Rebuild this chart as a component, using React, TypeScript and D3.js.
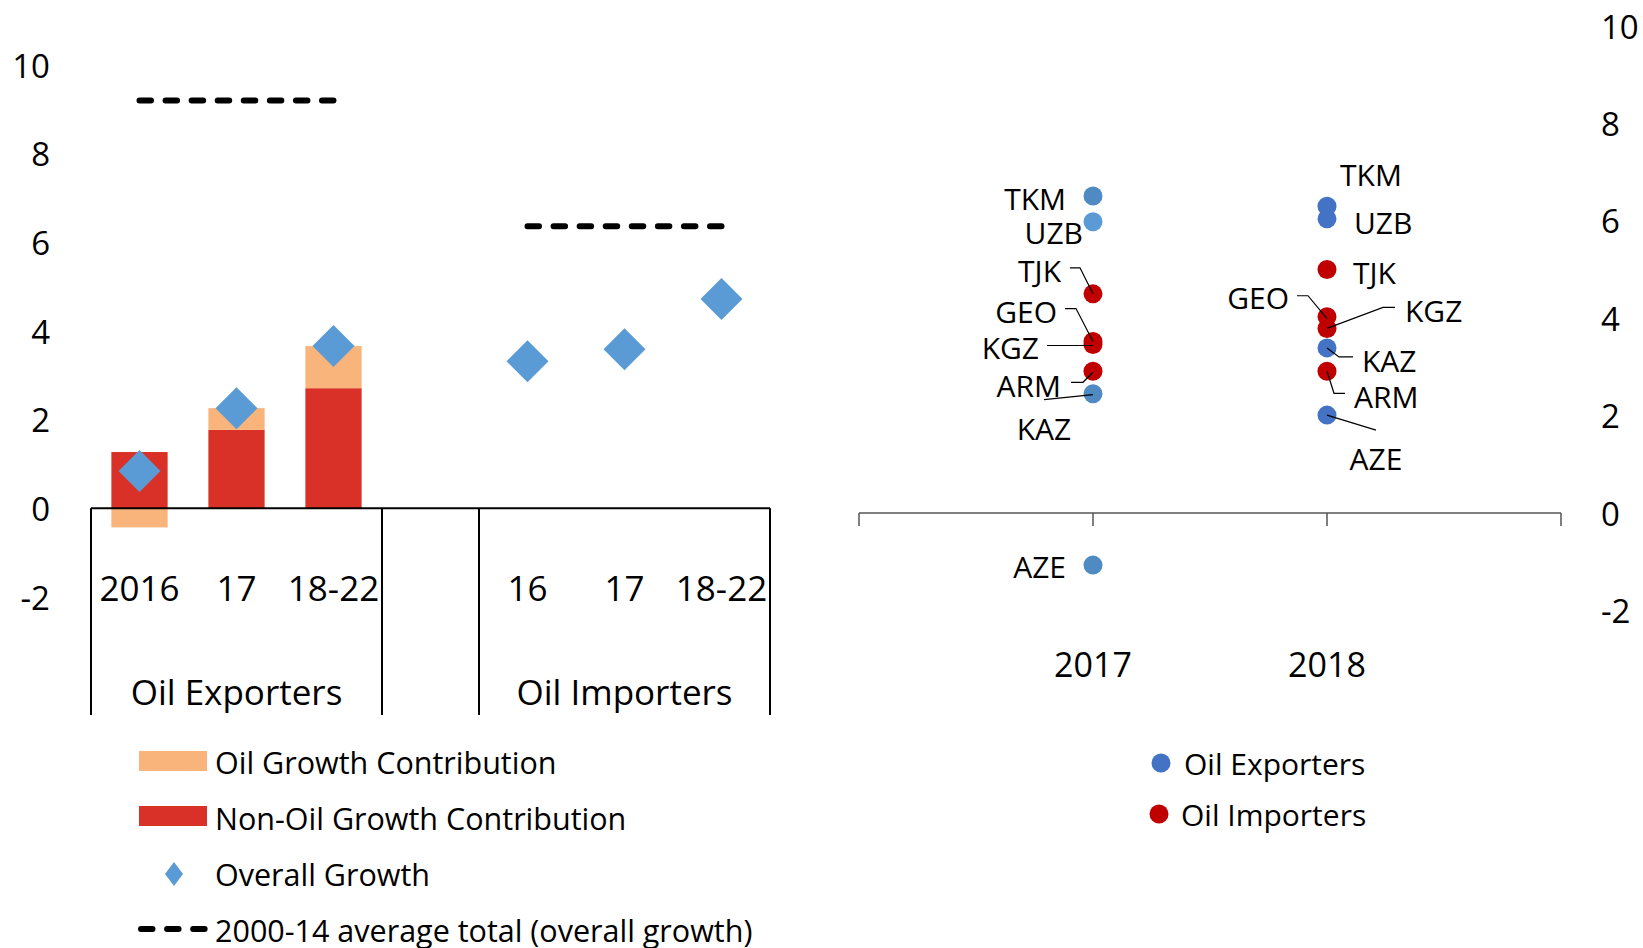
import React from "react";
import * as d3 from "d3";

// ---------- Data ----------
const exporterCats = ["2016", "17", "18-22"];
const importerCats = ["16", "17", "18-22"];
const exporterOil = [-0.43, 0.49, 0.95];
const exporterNonOil = [1.27, 1.77, 2.71];
const exporterOverall = [0.84, 2.26, 3.66];
const importerOverall = [3.32, 3.59, 4.72];
const avgExporters = 9.2;
const avgImporters = 6.36;
const groupNames = ["Oil Exporters", "", "Oil Importers"];
const yTicks = [-2, 0, 2, 4, 6, 8, 10];

const years = ["2017", "2018"];
const countries = ["TKM", "UZB", "TJK", "GEO", "KGZ", "ARM", "KAZ", "AZE"];
const countryGroup = ["Exporter", "Exporter", "Importer", "Importer", "Importer", "Importer", "Exporter", "Exporter"];
const growth2017 = [6.51, 5.98, 4.5, 3.52, 3.46, 2.91, 2.45, -1.07];
const growth2018 = [6.3, 6.04, 5.0, 4.03, 3.79, 2.91, 3.39, 2.01];

const legendLeft = ["Oil Growth Contribution", "Non-Oil Growth Contribution", "Overall Growth", "2000-14 average total (overall growth)"];
const legendRight = ["Oil Exporters", "Oil Importers"];

// ---------- Styles / layout ----------
const FONT = "'Open Sans', 'Noto Sans', sans-serif";
const C_OIL = "#F8B47B";
const C_NONOIL = "#D93127";
const C_DIAMOND = "#5B9BD5";
const C_EXP = "#4472C4";
const C_IMP = "#C00000";
const DASH = "11.5 14.57";
const dotColor: Record<string, string> = {
  "2017-TKM": "#4F8BC2",
  "2017-UZB": "#5B9BD5",
  "2017-KAZ": "#4F8BC2",
  "2017-AZE": "#4F8BC2",
};

type Lab = { dx: number; dy: number; anchor: "start" | "middle" | "end"; leader?: [number, number][] };
const labelLayout: Record<string, Lab> = {
  "2017-TKM": { dx: -27, dy: 3, anchor: "end" },
  "2017-UZB": { dx: -10, dy: 11, anchor: "end" },
  "2017-TJK": { dx: -32, dy: -23, anchor: "end", leader: [[-23, -26], [-13, -26], [0, 0]] },
  "2017-GEO": { dx: -36, dy: -30, anchor: "end", leader: [[-28, -33], [-17, -33], [0, 0]] },
  "2017-KGZ": { dx: -54, dy: 3, anchor: "end", leader: [[-46, 1], [0, 1]] },
  "2017-ARM": { dx: -32, dy: 14, anchor: "end", leader: [[-22, 11], [-10, 11], [0, 1]] },
  "2017-KAZ": { dx: -49, dy: 35, anchor: "middle", leader: [[-49, 6], [0, 1]] },
  "2017-AZE": { dx: -27, dy: 1, anchor: "end" },
  "2018-TKM": { dx: 44, dy: -32, anchor: "middle" },
  "2018-UZB": { dx: 27, dy: 4, anchor: "start" },
  "2018-TJK": { dx: 26, dy: 3, anchor: "start" },
  "2018-GEO": { dx: -38, dy: -19, anchor: "end", leader: [[-30, -21], [-19, -21], [0, 2]] },
  "2018-KGZ": { dx: 78, dy: -18, anchor: "start", leader: [[68, -21], [56, -21], [0, 0]] },
  "2018-KAZ": { dx: 35, dy: 13, anchor: "start", leader: [[0, 0], [12, 9], [26, 9]] },
  "2018-ARM": { dx: 27, dy: 25, anchor: "start", leader: [[0, 0], [7, 22], [18, 22]] },
  "2018-AZE": { dx: 49, dy: 43, anchor: "middle", leader: [[0, 0], [49, 15]] },
};

export default function App() {
  // ----- Left chart scales -----
  const slots = [...exporterCats.map((c) => "e" + c), "gap", ...importerCats.map((c) => "i" + c)];
  const slotLabels = [...exporterCats, "", ...importerCats];
  const xL = d3.scaleBand<string>().domain(slots).range([91, 770]).paddingInner(0).paddingOuter(0);
  const step = xL.step();
  const barW = step * 0.58;
  const yL = d3.scaleLinear().domain([-2, 10]).range([597, 65]);
  const groupBottom = 715;

  const stackData = exporterCats.map((c, i) => ({ cat: "e" + c, nonoil: exporterNonOil[i], oil: exporterOil[i] }));
  const stacked = d3.stack<any>().keys(["nonoil", "oil"]).offset(d3.stackOffsetDiverging)(stackData);
  const stackColors: Record<string, string> = { nonoil: C_NONOIL, oil: C_OIL };

  const diamonds = [
    ...exporterCats.map((c, i) => ({ slot: "e" + c, v: exporterOverall[i] })),
    ...importerCats.map((c, i) => ({ slot: "i" + c, v: importerOverall[i] })),
  ];
  const diamondPath = (w: number, h: number) => `M0,${-h}L${w},0L0,${h}L${-w},0Z`;
  const center = (s: string) => (xL(s) as number) + step / 2;

  const avgLines = [
    { x1: center("e" + exporterCats[0]), x2: center("e" + exporterCats[2]), v: avgExporters },
    { x1: center("i" + importerCats[0]), x2: center("i" + importerCats[2]), v: avgImporters },
  ];
  const groupSpans = [
    [0, 3],
    [3, 4],
    [4, 7],
  ];
  const x0 = xL.range()[0];

  // ----- Right chart scales -----
  const xR = d3.scaleLinear().domain([0, 3]).range([859, 1561]);
  const yR = d3.scaleLinear().domain([-2, 10]).range([610.4, 26]);
  const axisYR = yR(0);

  const points: { key: string; x: number; y: number; name: string; color: string }[] = [];
  years.forEach((yr, yi) => {
    const vals = yi === 0 ? growth2017 : growth2018;
    countries.forEach((c, ci) => {
      const key = `${yr}-${c}`;
      const base = countryGroup[ci] === "Exporter" ? C_EXP : C_IMP;
      points.push({
        key,
        name: c,
        x: xR(yi + 1),
        y: yR(vals[ci]),
        color: dotColor[key] ?? base,
      });
    });
  });

  return (
    <svg
      width={1643}
      height={948}
      style={{ position: "absolute", left: 0, top: 0, background: "#fff" }}
      fontFamily={FONT}
    >
      {/* ===== Left chart ===== */}
      {yTicks.map((t) => (
        <text key={"yl" + t} x={50} y={yL(t)} textAnchor="end" dominantBaseline="central" fontSize={33} fill="#000">
          {t}
        </text>
      ))}
      {stacked.map((layer) => (
        <g key={layer.key} fill={stackColors[layer.key]}>
          {layer.map((d: any, i: number) => (
            <rect
              key={i}
              x={center(d.data.cat) - barW / 2}
              width={barW}
              y={yL(Math.max(d[0], d[1]))}
              height={Math.abs(yL(d[0]) - yL(d[1]))}
            />
          ))}
        </g>
      ))}
      {/* axis + group lines */}
      <line x1={x0} x2={xL.range()[1]} y1={yL(0)} y2={yL(0)} stroke="#000" strokeWidth={2} />
      {[0, 3, 4, 7].map((s) => (
        <line key={"gl" + s} x1={x0 + s * step} x2={x0 + s * step} y1={yL(0)} y2={groupBottom} stroke="#000" strokeWidth={2} />
      ))}
      {slots.map((s, i) => (
        <text key={"cl" + s} x={center(s)} y={587} textAnchor="middle" dominantBaseline="central" fontSize={35}>
          {slotLabels[i]}
        </text>
      ))}
      {groupSpans.map(([a, b], i) => (
        <text key={"gn" + i} x={x0 + ((a + b) / 2) * step} y={691} textAnchor="middle" dominantBaseline="central" fontSize={35}>
          {groupNames[i]}
        </text>
      ))}
      {avgLines.map((l, i) => (
        <line
          key={"avg" + i}
          x1={l.x1}
          x2={l.x2}
          y1={yL(l.v)}
          y2={yL(l.v)}
          stroke="#000"
          strokeWidth={6}
          strokeDasharray={DASH}
          strokeLinecap="round"
        />
      ))}
      {diamonds.map((d) => (
        <path key={"dm" + d.slot} d={diamondPath(21, 21)} transform={`translate(${center(d.slot)},${yL(d.v)})`} fill={C_DIAMOND} />
      ))}

      {/* Left legend */}
      <rect x={139} y={751} width={68} height={20} fill={C_OIL} />
      <rect x={139} y={806} width={68} height={20} fill={C_NONOIL} />
      <path d={diamondPath(9, 12)} transform="translate(174,874)" fill={C_DIAMOND} />
      <line x1={141} x2={205} y1={929} y2={929} stroke="#000" strokeWidth={6} strokeDasharray={DASH} strokeLinecap="round" />
      {legendLeft.map((t, i) => (
        <text key={"ll" + i} x={215} y={762 + i * 56} dominantBaseline="central" fontSize={30.5}>
          {t}
        </text>
      ))}

      {/* ===== Right chart ===== */}
      {yTicks.map((t) => (
        <text key={"yr" + t} x={1601} y={yR(t)} textAnchor="start" dominantBaseline="central" fontSize={33}>
          {t}
        </text>
      ))}
      <line x1={xR(0)} x2={xR(3)} y1={axisYR} y2={axisYR} stroke="#555" strokeWidth={1.5} />
      {[0, 1, 2, 3].map((t) => (
        <line key={"tk" + t} x1={xR(t)} x2={xR(t)} y1={axisYR} y2={axisYR + 13} stroke="#555" strokeWidth={1.5} />
      ))}
      {years.map((yr, i) => (
        <text key={"yrl" + yr} x={xR(i + 1)} y={664} textAnchor="middle" dominantBaseline="central" fontSize={34}>
          {yr}
        </text>
      ))}
      {points.map((p) => (
        <circle key={"pt" + p.key} cx={p.x} cy={p.y} r={9.5} fill={p.color} />
      ))}
      {points.map((p) => {
        const L = labelLayout[p.key];
        return (
          <g key={"lb" + p.key}>
            {L.leader && (
              <polyline
                points={L.leader.map(([a, b]) => `${p.x + a},${p.y + b}`).join(" ")}
                fill="none"
                stroke="#000"
                strokeWidth={1.2}
              />
            )}
            <text x={p.x + L.dx} y={p.y + L.dy} textAnchor={L.anchor} dominantBaseline="central" fontSize={30}>
              {p.name}
            </text>
          </g>
        );
      })}

      {/* Right legend */}
      <circle cx={1161} cy={763} r={9.5} fill={C_EXP} />
      <circle cx={1159} cy={814} r={9.5} fill={C_IMP} />
      <text x={1184} y={763} dominantBaseline="central" fontSize={30}>
        {legendRight[0]}
      </text>
      <text x={1181} y={814} dominantBaseline="central" fontSize={30}>
        {legendRight[1]}
      </text>
    </svg>
  );
}
